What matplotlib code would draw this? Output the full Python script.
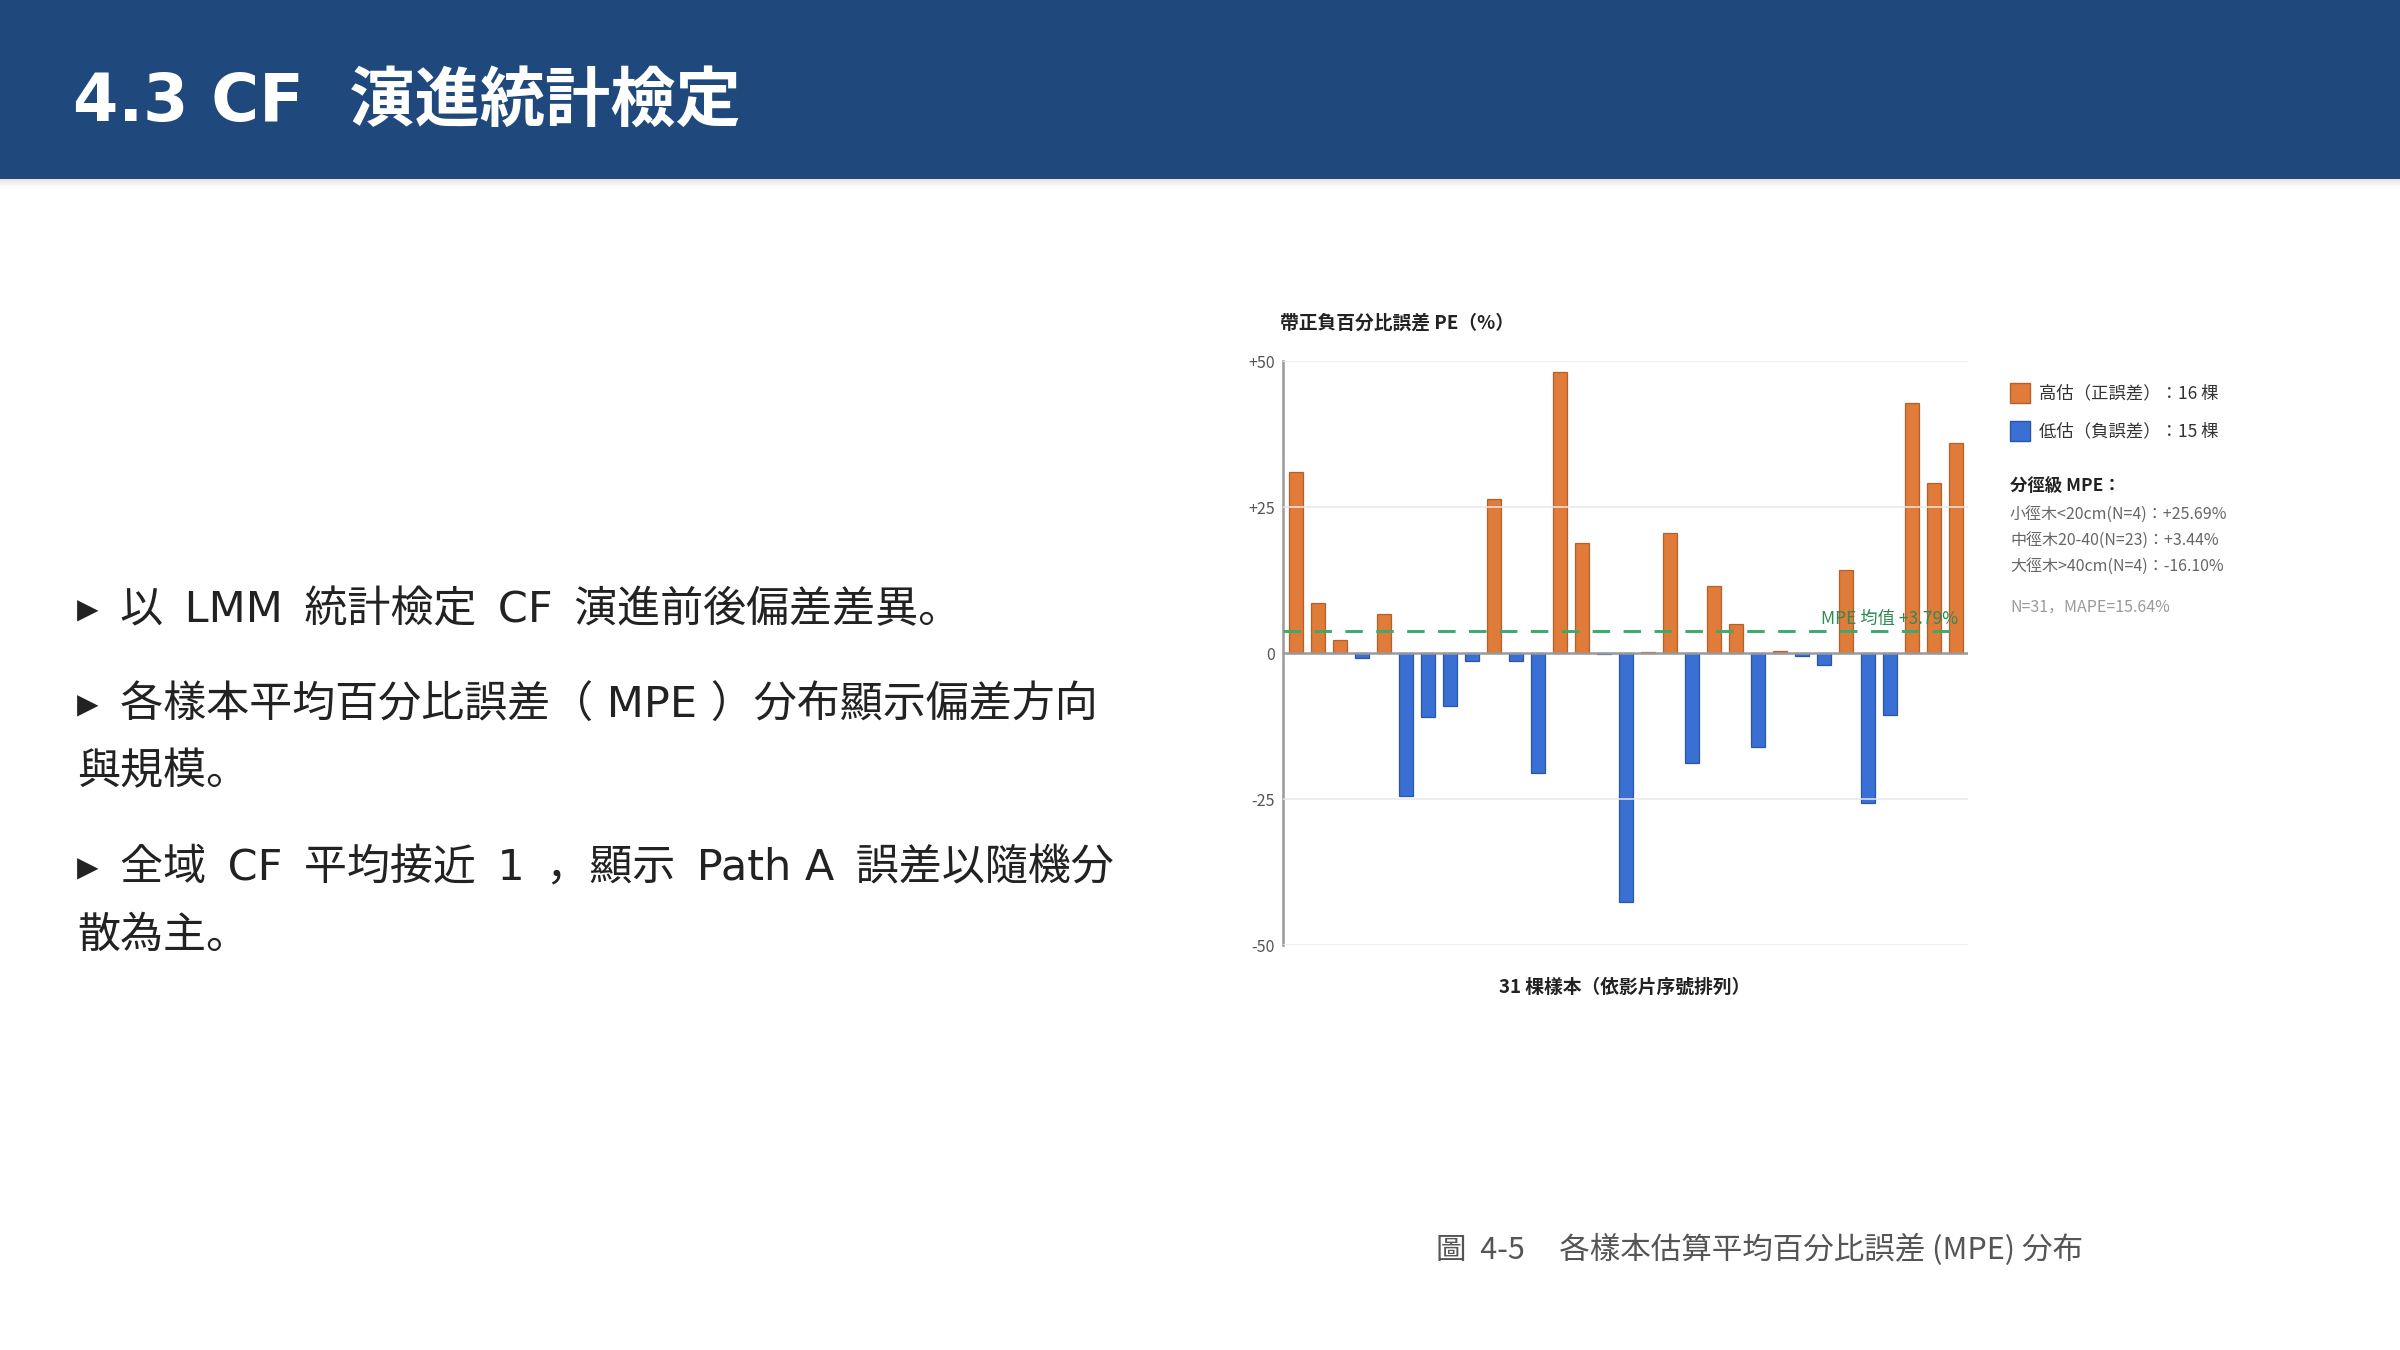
import numpy as np
import matplotlib
matplotlib.use("Agg")
import matplotlib.pyplot as plt
from matplotlib.patches import Rectangle

# PE (%) per sample, in video order
pe_values = [31.0, 8.5, 2.2, -0.8, 6.6, -24.5, -10.9, -9.0, -1.4, 26.4,
             -1.3, -20.5, 48.1, 18.8, -0.2, -42.7, 0.2, 20.5, -18.9, 11.5,
             5.0, -16.1, 0.4, -0.45, -2.0, 14.2, -25.6, -10.6, 42.8, 29.1, 36.0]
mpe_mean = 3.79
y_ticks = [-50, -25, 0, 25, 50]
y_tick_labels = ["-50", "-25", "0", "+25", "+50"]

legend_labels = ["高估（正誤差）：16 棵", "低估（負誤差）：15 棵"]
class_title = "分徑級 MPE："
class_lines = ["小徑木<20cm(N=4)：+25.69%",
               "中徑木20-40(N=23)：+3.44%",
               "大徑木>40cm(N=4)：-16.10%"]
summary = "N=31，MAPE=15.64%"

SP = "\u2002"  # en space, wider gaps between CJK and Latin runs
bullets = [
    [f"▸{SP}以{SP}LMM{SP}統計檢定{SP}CF{SP}演進前後偏差差異。"],
    [f"▸{SP}各樣本平均百分比誤差（ MPE ）分布顯示偏差方向", "與規模。"],
    [f"▸{SP}全域{SP}CF{SP}平均接近{SP}1{SP}，顯示{SP}Path A{SP}誤差以隨機分", "散為主。"],
]

ORANGE = "#E07B39"
ORANGE_EDGE = "#B4622C"
BLUE = "#3A6FD4"
BLUE_EDGE = "#2A55A8"
GREEN = "#3BAA6C"
GREEN_TEXT = "#2E8B57"

slide_font = ["DejaVu Sans", "Noto Sans CJK JP"]
chart_font = ["Noto Sans CJK JP", "DejaVu Sans"]
plt.rcParams["font.family"] = chart_font

W, H = 2400, 1350
fig = plt.figure(figsize=(24, 13.5), dpi=100)
fig.patch.set_facecolor("white")

def fy(py):
    return 1 - py / H

def fx(px):
    return px / W

# header band + soft shadow
for i, a in enumerate([0.10, 0.07, 0.045, 0.025, 0.012]):
    fig.patches.append(Rectangle((0, fy(179 + 2 * (i + 1))), 1, 2 / H,
                                 transform=fig.transFigure, color="black",
                                 alpha=a, lw=0, zorder=0))
fig.patches.append(Rectangle((0, fy(179)), 1, 179 / H, transform=fig.transFigure,
                             color="#1F497D", lw=0, zorder=1))
fig.text(fx(73), fy(104), "4.3 CF  演進統計檢定", color="white", fontsize=47,
         fontweight="bold", family=slide_font, va="center", ha="left", zorder=2)

# bullet text
line_y = [[610], [706, 772], [868, 936]]
for lines, ys in zip(bullets, line_y):
    for txt, py in zip(lines, ys):
        fig.text(fx(77), fy(py), txt, color="#222222", fontsize=31,
                 family=slide_font, va="center", ha="left")

# chart
ax = fig.add_axes([fx(1283), fy(945), fx(1968 - 1283), (945 - 361) / H])
x = np.arange(len(pe_values))
vals = np.array(pe_values)
colors = [ORANGE if v > 0 else BLUE for v in vals]
edges = [ORANGE_EDGE if v > 0 else BLUE_EDGE for v in vals]
ax.bar(x, vals, width=0.63, color=colors, edgecolor=edges, linewidth=0.9, zorder=2)

ax.set_xlim(-0.6, 30.55)
ax.set_ylim(-50, 50)
ax.set_yticks(y_ticks)
ax.set_yticklabels(y_tick_labels)
ax.set_xticks([])
ax.tick_params(axis="y", length=0, pad=6, labelsize=11.5, labelcolor="#555555")
for t in [-50, -25, 25, 50]:
    ax.axhline(t, color="#e8e8e8", lw=1.1, zorder=3)
ax.axhline(0, color="#999999", lw=1.8, zorder=4)
for s in ["top", "right", "bottom"]:
    ax.spines[s].set_visible(False)
ax.spines["left"].set_color("#999999")
ax.spines["left"].set_linewidth(1.8)

ax.hlines(mpe_mean, -0.6, 29.9, colors=GREEN, lw=2.1, linestyles=(0, (6, 4.6)), zorder=5)
ax.annotate(f"MPE 均值 +{mpe_mean:.2f}%", xy=(30.1, mpe_mean), xytext=(0, 2),
            textcoords="offset points", ha="right", va="bottom",
            fontsize=12.5, color=GREEN_TEXT, zorder=6)

fig.text(fx(1280), fy(323), "帶正負百分比誤差 PE（%）", fontsize=13.5,
         fontweight="bold", color="#222222", va="center", ha="left")
fig.text(fx(1625), fy(987), "31 棵樣本（依影片序號排列）", fontsize=13.5,
         fontweight="bold", color="#222222", va="center", ha="center")

# legend / notes at right
for (label, fc, ec), py in zip([(legend_labels[0], ORANGE, ORANGE_EDGE),
                                (legend_labels[1], BLUE, BLUE_EDGE)], [393, 431]):
    fig.patches.append(Rectangle((fx(2010), fy(py + 10)), 20 / W, 20 / H,
                                 transform=fig.transFigure, facecolor=fc,
                                 edgecolor=ec, lw=1))
    fig.text(fx(2039), fy(py), label, fontsize=12.5, color="#333333",
             va="center", ha="left")

fig.text(fx(2010), fy(487), class_title, fontsize=12.5, fontweight="bold",
         color="#222222", va="center", ha="left")
for txt, py in zip(class_lines, [515, 541, 567]):
    fig.text(fx(2010), fy(py), txt, fontsize=11.5, color="#666666",
             va="center", ha="left")
fig.text(fx(2010), fy(607), summary, fontsize=11.5, color="#9a9a9a",
         va="center", ha="left")

# caption
fig.text(fx(1760), fy(1250), "圖  4-5     各樣本估算平均百分比誤差 (MPE) 分布",
         fontsize=22, color="#555555", va="center", ha="center")

fig.savefig("out.png", dpi=100, facecolor="white")
